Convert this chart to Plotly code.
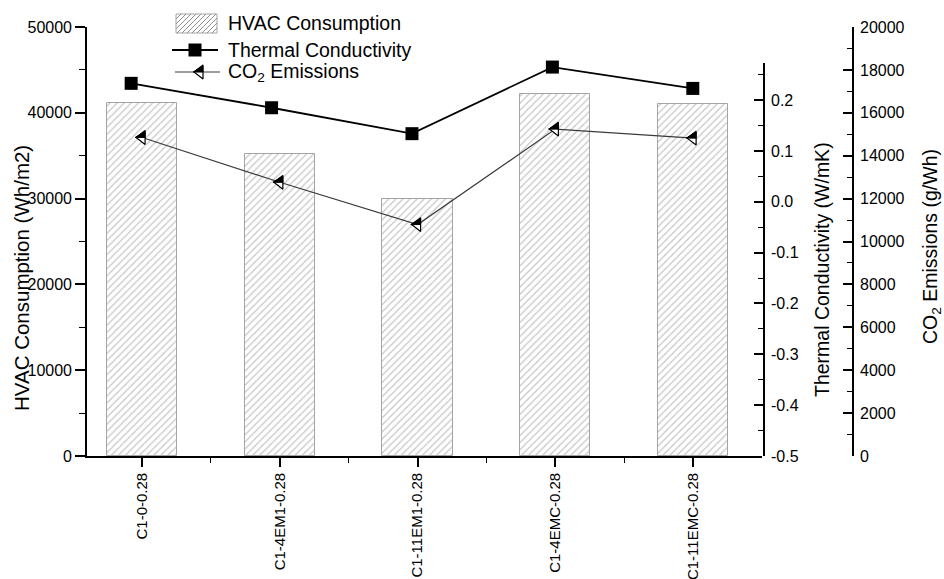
import plotly.graph_objects as go

W, H = 944, 579
FONT = "Liberation Sans, Arial, sans-serif"

# ---- data -------------------------------------------------------------
categories = ["C1-0-0.28", "C1-4EM1-0.28", "C1-11EM1-0.28", "C1-4EMC-0.28", "C1-11EMC-0.28"]
hvac_consumption = [41200, 35250, 29900, 42150, 41000]          # Wh/m2
thermal_conductivity = [0.233, 0.185, 0.134, 0.265, 0.223]       # W/mK
co2_emissions = [14850, 12760, 10790, 15240, 14820]              # g/Wh

hvac_ticks = [0, 10000, 20000, 30000, 40000, 50000]
thermal_ticks = [-0.5, -0.4, -0.3, -0.2, -0.1, 0.0, 0.1, 0.2]
co2_ticks = [0, 2000, 4000, 6000, 8000, 10000, 12000, 14000, 16000, 18000, 20000]

x_pos = list(range(len(categories)))
x_minor = [i + 0.5 for i in x_pos[:-1]]


def fx(px):
    return px / W


def fy(py):
    return 1 - py / H


# plot-area geometry (pixels) and axis ranges
X_PX = (87, 762)
Y_PX = (456, 27)
X_RANGE = [-0.4, 4.5]
CO2_RANGE = [0, 20000]

BAR_LINE = "#a4a4a4"
HATCH = "#8f8f8f"
CO2_LINE = "#3a3a3a"
TRI_SIZE = 12
SQ_SIZE = 13

# triangle-left geometry of a plotly marker (pixel offsets from its centre)
r = TRI_SIZE / 2
xt = r * 2 / 3 ** 0.5
yt = r / 2
N_STROKES = 7


def half_triangle_strokes(xs, ys, sx, sy):
    """Horizontal strokes that fill the upper half of triangle-left markers.
    sx, sy: data units per pixel along x and y."""
    px, py = [], []
    for xv, yv in zip(xs, ys):
        for k in range(N_STROKES):
            h = r * (k + 0.5) / N_STROKES
            x_left = -xt + (xt + yt) * h / r
            px += [xv + x_left * sx, xv + yt * sx, None]
            py += [yv + h * sy, yv + h * sy, None]
    return px, py


def half_triangle_outline(xs, ys, sx, sy):
    px, py = [], []
    for xv, yv in zip(xs, ys):
        px += [xv - xt * sx, xv + yt * sx, xv + yt * sx, xv - xt * sx, None]
        py += [yv, yv + r * sy, yv, yv, None]
    return px, py


def add_half_fill(xs, ys, sx, sy, xaxis, yaxis):
    hx, hy = half_triangle_outline(xs, ys, sx, sy)
    fig.add_trace(go.Scatter(
        x=hx, y=hy, xaxis=xaxis, yaxis=yaxis, mode="lines", fill="toself", fillcolor="black",
        line=dict(color="black", width=0.8), cliponaxis=False, showlegend=False,
        hoverinfo="skip"))
    kx, ky = half_triangle_strokes(xs, ys, sx, sy)
    fig.add_trace(go.Scatter(
        x=kx, y=ky, xaxis=xaxis, yaxis=yaxis, mode="lines",
        line=dict(color="black", width=1.3), cliponaxis=False, showlegend=False,
        hoverinfo="skip"))


fig = go.Figure()

fig.add_trace(go.Bar(
    x=x_pos, y=hvac_consumption, width=0.51, xaxis="x", yaxis="y",
    marker=dict(color="white", line=dict(color=BAR_LINE, width=1),
                pattern=dict(shape="/", fgcolor=HATCH, bgcolor="white", size=5, solidity=0.25)),
    showlegend=False, name="HVAC Consumption",
))

fig.add_trace(go.Scatter(
    x=x_pos, y=co2_emissions, xaxis="x", yaxis="y2", mode="lines+markers",
    line=dict(color=CO2_LINE, width=1.2),
    marker=dict(symbol="triangle-left", size=TRI_SIZE, color="white",
                line=dict(color="black", width=1.2)),
    showlegend=False, name="CO2 Emissions",
))

# black upper half of each CO2 marker
sx = (X_RANGE[1] - X_RANGE[0]) / (X_PX[1] - X_PX[0])
sy = (CO2_RANGE[1] - CO2_RANGE[0]) / (Y_PX[0] - Y_PX[1])
add_half_fill(x_pos, co2_emissions, sx, sy, "x", "y2")

fig.add_trace(go.Scatter(
    x=x_pos, y=thermal_conductivity, xaxis="x2", yaxis="y3", mode="lines+markers",
    line=dict(color="black", width=1.8),
    marker=dict(symbol="square", size=SQ_SIZE, color="black", line=dict(width=0)),
    cliponaxis=False, showlegend=False, name="Thermal Conductivity",
))

# ---- legend (drawn on a full-page pixel overlay: x3 / y4) --------------
LEG_HVAC_Y, LEG_TC_Y, LEG_CO2_Y = 23, 50, 72
LEG_TEXT_X = 226

shapes = []
sx0, sx1, sy0, sy1 = 176, 217, 14, 33
shapes.append(dict(type="rect", xref="paper", yref="paper", x0=fx(sx0), x1=fx(sx1),
                   y0=fy(sy1), y1=fy(sy0), fillcolor="white", line=dict(color=BAR_LINE, width=1)))
step = 5
c = sx0 + sy0 + step
while c < sx1 + sy1:
    # "/" hatch line: x + y = c, clipped to the swatch
    xa = max(sx0, c - sy1)
    xb = min(sx1, c - sy0)
    if xb > xa:
        shapes.append(dict(type="line", xref="paper", yref="paper",
                           x0=fx(xa), y0=fy(c - xa), x1=fx(xb), y1=fy(c - xb),
                           line=dict(color=HATCH, width=1)))
    c += step

fig.add_trace(go.Scatter(
    x=[172, 218], y=[LEG_TC_Y, LEG_TC_Y], xaxis="x3", yaxis="y4", mode="lines",
    line=dict(color="black", width=1.8), showlegend=False, hoverinfo="skip", cliponaxis=False))
fig.add_trace(go.Scatter(
    x=[195], y=[LEG_TC_Y], xaxis="x3", yaxis="y4", mode="markers",
    marker=dict(symbol="square", size=SQ_SIZE, color="black", line=dict(width=0)),
    showlegend=False, hoverinfo="skip", cliponaxis=False))
fig.add_trace(go.Scatter(
    x=[175, 220], y=[LEG_CO2_Y, LEG_CO2_Y], xaxis="x3", yaxis="y4", mode="lines",
    line=dict(color=CO2_LINE, width=1.2), showlegend=False, hoverinfo="skip", cliponaxis=False))
fig.add_trace(go.Scatter(
    x=[200], y=[LEG_CO2_Y], xaxis="x3", yaxis="y4", mode="markers",
    marker=dict(symbol="triangle-left", size=TRI_SIZE, color="white",
                line=dict(color="black", width=1.2)),
    showlegend=False, hoverinfo="skip", cliponaxis=False))
add_half_fill([200], [LEG_CO2_Y], 1, -1, "x3", "y4")

annotations = []
for label, yc in [("HVAC Consumption", LEG_HVAC_Y), ("Thermal Conductivity", LEG_TC_Y),
                  ("CO<sub>2</sub> Emissions", LEG_CO2_Y)]:
    annotations.append(dict(text=label, x=fx(LEG_TEXT_X), y=fy(yc), xref="paper", yref="paper",
                            xanchor="left", yanchor="middle", showarrow=False,
                            font=dict(family=FONT, size=19.5, color="black")))

# ---- axis titles -------------------------------------------------------
for label, xc, yc, fs in [("HVAC Consumption (Wh/m2)", 21, 278, 20.5),
                          ("Thermal Conductivity (W/mK)", 822, 270, 19.5),
                          ("CO<sub>2</sub> Emissions (g/Wh)", 931, 247, 19.5)]:
    annotations.append(dict(text=label, x=fx(xc), y=fy(yc), xref="paper", yref="paper",
                            xanchor="center", yanchor="middle", textangle=-90, showarrow=False,
                            font=dict(family=FONT, size=fs, color="black")))

AX = dict(showgrid=False, zeroline=False, showline=True, linecolor="black", linewidth=1.6,
          tickcolor="black", tickwidth=1.6, tickformat="d",
          tickfont=dict(family=FONT, size=16, color="black"))

fig.update_layout(
    width=W, height=H,
    margin=dict(l=0, r=0, t=0, b=0, autoexpand=False),
    paper_bgcolor="white", plot_bgcolor="rgba(0,0,0,0)",
    showlegend=False, bargap=0, hovermode=False,
    font=dict(family=FONT, color="black"),
    xaxis=dict(AX, domain=[fx(X_PX[0]), fx(X_PX[1])], range=X_RANGE, anchor="y",
               tickmode="array", tickvals=x_pos, ticktext=categories, tickangle=-90,
               ticks="outside", ticklen=9, tickfont=dict(family=FONT, size=15, color="black"),
               minor=dict(tickmode="array", tickvals=x_minor, ticks="outside", ticklen=5,
                          tickwidth=1.4, tickcolor="black")),
    yaxis=dict(AX, domain=[fy(Y_PX[0]), fy(Y_PX[1])], range=[0, 50000], anchor="x",
               tickmode="array", tickvals=hvac_ticks, ticks="outside", ticklen=10,
               minor=dict(tickmode="linear", tick0=0, dtick=5000, ticks="outside", ticklen=6,
                          tickwidth=1.4, tickcolor="black")),
    yaxis2=dict(AX, overlaying="y", side="right", anchor="free", position=fx(853),
                range=CO2_RANGE, tickmode="array", tickvals=co2_ticks, ticks="inside", ticklen=9,
                ticklabelstandoff=3,
                minor=dict(tickmode="linear", tick0=0, dtick=1000, ticks="inside", ticklen=5,
                           tickwidth=1.4, tickcolor="black")),
    xaxis2=dict(domain=[fx(75), fx(763)], range=X_RANGE, anchor="y3", visible=False),
    yaxis3=dict(AX, domain=[fy(456), fy(63)], range=[-0.5, 0.273], anchor="x2", side="right",
                tickmode="array", tickvals=thermal_ticks,
                ticktext=[f"{v:.1f}" for v in thermal_ticks], ticks="inside", ticklen=9,
                ticklabelstandoff=3,
                minor=dict(tickmode="linear", tick0=-0.5, dtick=0.05, ticks="inside", ticklen=5,
                           tickwidth=1.4, tickcolor="black")),
    # full-page pixel space for the legend samples
    xaxis3=dict(domain=[0, 1], range=[0, W], anchor="y4", visible=False, fixedrange=True),
    yaxis4=dict(domain=[0, 1], range=[H, 0], anchor="x3", visible=False, fixedrange=True),
    shapes=shapes,
    annotations=annotations,
)

fig.write_html("out.html")
